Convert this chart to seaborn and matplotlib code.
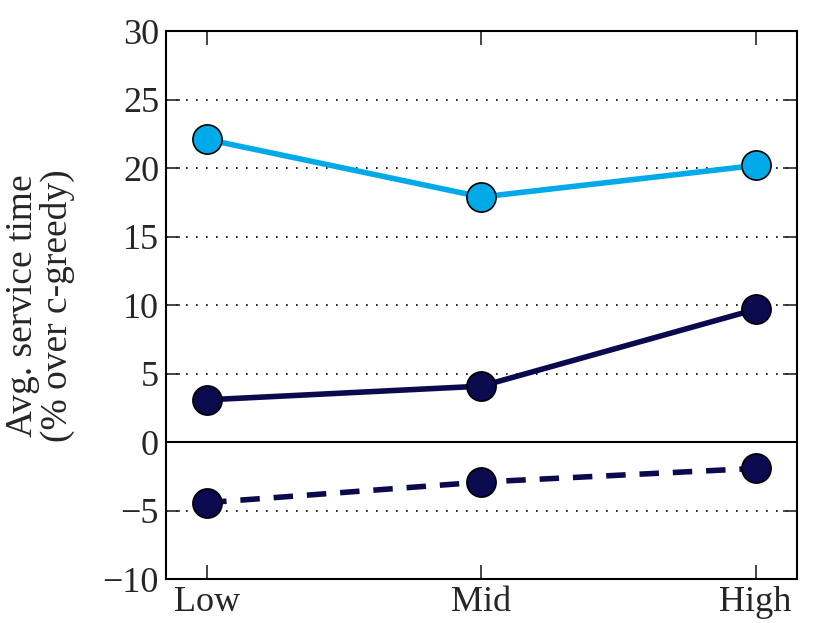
import pandas as pd
import matplotlib
matplotlib.use("Agg")
import matplotlib.pyplot as plt
import seaborn as sns

# Data
levels = ["Low", "Mid", "High"]
series_names = ["light", "dark", "dark_dashed"]
light_vals = [22.1, 17.9, 20.2]
dark_vals = [3.1, 4.1, 9.7]
dark_dashed_vals = [-4.4, -2.9, -1.9]

rows = []
for name, vals in zip(series_names, [light_vals, dark_vals, dark_dashed_vals]):
    for i, v in enumerate(vals):
        rows.append({"level": levels[i], "pos": i, "series": name, "value": v})
df = pd.DataFrame(rows)

sns.set_style("ticks")
plt.rcParams["font.family"] = ["Liberation Serif", "DejaVu Serif"]

fig = plt.figure(figsize=(8.3, 6.23), dpi=100)
ax = fig.add_axes([0.2, 0.07, 0.76, 0.88])

palette = {"light": "#00aae9", "dark": "#0b0a4e", "dark_dashed": "#0b0a4e"}
sns.lineplot(data=df, x="pos", y="value", hue="series", style="series",
             palette=palette,
             dashes={"light": "", "dark": "", "dark_dashed": (3.5, 2.5)},
             markers={"light": "o", "dark": "o", "dark_dashed": "o"},
             markersize=21, markeredgecolor="black", markeredgewidth=1.2,
             linewidth=4, legend=False, ax=ax, zorder=3)

ax.axhline(0, color="black", linewidth=1.5, zorder=2)

ax.set_xlim(-0.15, 2.15)
ax.set_ylim(-10, 30)
ax.set_xticks(range(len(levels)))
ax.set_xticklabels(levels)
yticks = list(range(-10, 31, 5))
ax.set_yticks(yticks)
ax.set_yticklabels([str(t).replace("-", "\u2212") for t in yticks])
ax.yaxis.grid(True, linestyle=(0, (1, 5)), color="black", linewidth=1.2)
ax.set_axisbelow(True)

ax.tick_params(direction="in", length=10, width=1.2, top=True, right=True,
               labelsize=26, pad=5)
for s in ax.spines.values():
    s.set_linewidth(1.5)
    s.set_color("black")

ax.set_xlabel("")
ax.set_ylabel("Avg. service time\n(% over c-greedy)", fontsize=27, linespacing=1.0, labelpad=20)

fig.savefig("out.png", dpi=100)
